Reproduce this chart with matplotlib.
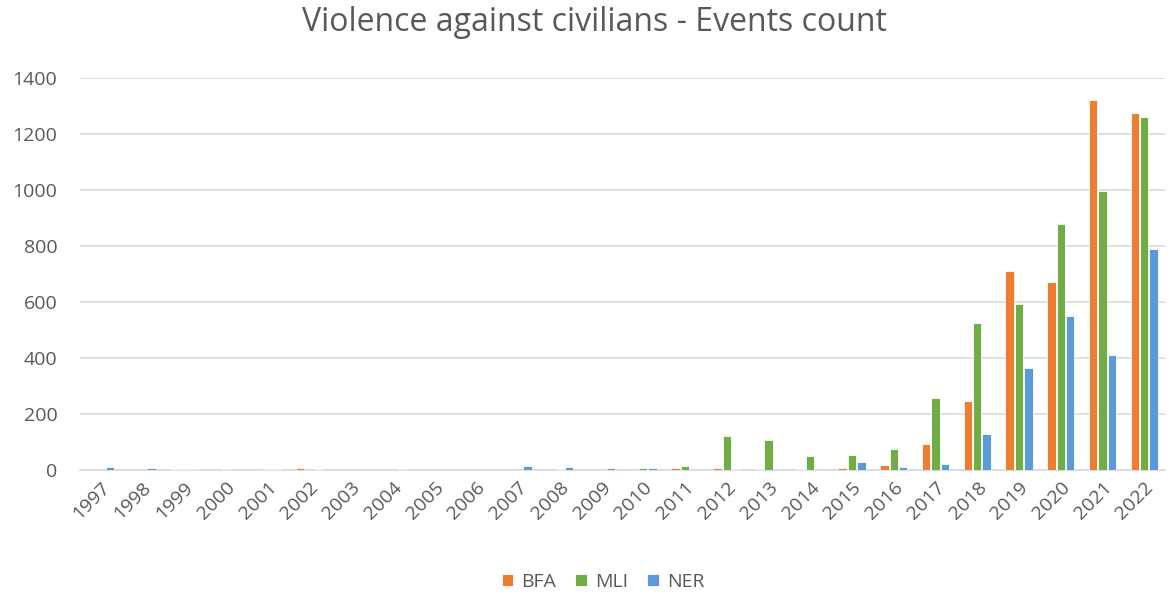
import matplotlib
matplotlib.use('Agg')
import matplotlib.pyplot as plt
import numpy as np

# Datos
years = [str(y) for y in range(1997, 2023)]
bfa = [0, 0, 2, 0, 0, 9, 0, 0, 0, 0, 0, 0, 0, 0, 9, 7, 3, 3, 7, 17, 93, 246, 709, 673, 1321, 1276]
mli = [0, 0, 2, 3, 2, 0, 0, 0, 0, 0, 0, 2, 1, 6, 14, 120, 107, 49, 52, 76, 258, 525, 593, 878, 996, 1260]
ner = [12, 7, 3, 0, 2, 3, 0, 2, 1, 1, 14, 11, 6, 6, 0, 2, 1, 1, 29, 11, 20, 128, 365, 549, 410, 788]

series = [('BFA', bfa, '#ED7D31'), ('MLI', mli, '#70AD47'), ('NER', ner, '#5B9BD5')]

plt.rcParams['font.family'] = ['Open Sans', 'DejaVu Sans']
gris = '#595959'

fig = plt.figure(figsize=(11.71, 5.95), dpi=100)
ax = fig.add_axes([0.068, 0.21, 0.927, 0.659])

x = np.arange(len(years))
paso = 0.224
for i, (nom, vals, col) in enumerate(series):
    ax.bar(x + (i - 1) * paso, vals, width=0.2, color=col, edgecolor='white',
           linewidth=0.6, label=nom, zorder=3)

ax.set_xlim(-0.5, len(years) - 0.5)
ax.set_ylim(0, 1400)
ax.set_yticks(range(0, 1401, 200))
ax.grid(axis='y', color='#D9D9D9', linewidth=1.2, zorder=0)
for s in ['top', 'right', 'left']:
    ax.spines[s].set_visible(False)
ax.spines['bottom'].set_color('#D9D9D9')
ax.spines['bottom'].set_linewidth(1.2)
ax.tick_params(length=0, labelsize=14, colors=gris)
ax.tick_params(axis='y', pad=16)
ax.tick_params(axis='x', pad=6)
ax.set_xticks(x)
ax.set_xticklabels(years, rotation=45, ha='right', rotation_mode='anchor')

fig.suptitle('Violence against civilians - Events count', x=0.508, y=0.99, fontsize=23, color=gris)
fig.legend(loc='lower center', ncol=3, frameon=False, fontsize=14, labelcolor=gris,
           handlelength=0.6, handleheight=0.6, columnspacing=1.0, handletextpad=0.4,
           bbox_to_anchor=(0.515, -0.022))

fig.savefig('out.png', dpi=100)
